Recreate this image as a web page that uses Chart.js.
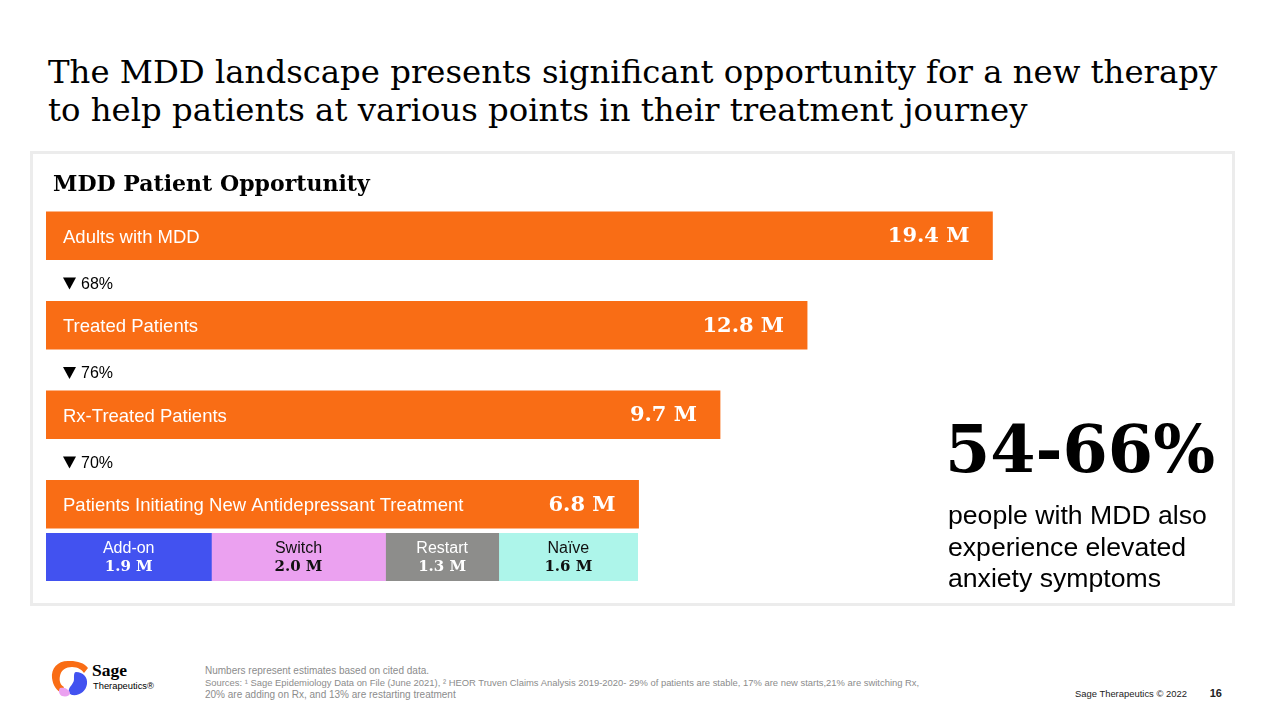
<!DOCTYPE html>
<html>
<head>
<meta charset="utf-8">
<script src="https://cdn.jsdelivr.net/npm/chart.js@4.4.1/dist/chart.umd.min.js"></script>
<style>
  html, body { margin:0; padding:0; background:#fff; }
  body { width:1280px; height:720px; position:relative; overflow:hidden; }
  #panel { position:absolute; left:30px; top:151px; width:1199px; height:449px; border:3px solid #ececec; }
  canvas { position:absolute; }
  .t { position:absolute; white-space:nowrap; line-height:1; }
</style>
</head>
<body>
<div id="panel"></div>
<canvas id="main" width="1188" height="358" style="left:46px; top:191px; width:1188px; height:358px;"></canvas>
<canvas id="split" width="592" height="48" style="left:46px; top:533px; width:592px; height:48px;"></canvas>
<svg style="position:absolute; left:50px; top:659px;" width="42" height="40" viewBox="0 0 42 40">
  <path d="M20 2 C8 1 1 9 2 19 C3 27 7 32 12 34 L14 28 C10 26 9 21 10 17 C11 11 16 8 22 8 C28 8 32 11 34 14 L38 9 C34 4 28 2 20 2 Z" fill="#F96D15"/>
  <path d="M26 13 C33 13 38 18 37 25 C36 32 30 37 22 36 C19 35 18 33 19 30 C21 26 24 24 24 20 C24 16 24 13 26 13 Z" fill="#4252F0"/>
  <path d="M10 29 C14 28 19 30 20 34 C20 37 16 38 12 37 C9 36 8 31 10 29 Z" fill="#EBA1F0"/>
</svg>
<script>
// ---------- data ----------
const categories = ['Adults with MDD', 'Treated Patients', 'Rx-Treated Patients', 'Patients Initiating New Antidepressant Treatment'];
const patientsM = [19.4, 12.8, 9.7, 6.8];
const dropRates = ['68%', '76%', '70%'];
const breakdownLabels = ['Add-on', 'Switch', 'Restart', 'Naïve'];
const breakdownM = [1.9, 2.0, 1.3, 1.6];

// ---------- styles ----------
const ORANGE = '#F96D15';
const breakdownColors = ['#4252F0', '#EBA1F0', '#8D8D8B', '#ADF5EA'];
const breakdownText = ['#ffffff', '#111111', '#ffffff', '#111111'];
const SANS = '"Liberation Sans", Arial, Helvetica, sans-serif';
const SERIF = '"DejaVu Serif", Georgia, serif';
const X_MIN = -14.3, X_MAX = 28;

// ---------- text helper ----------
const mctx = document.createElement('canvas').getContext('2d');
function addText(str, o) {
  const el = document.createElement('div');
  el.className = 't';
  el.textContent = str;
  let size = o.size;
  el.style.fontFamily = o.font;
  el.style.fontWeight = o.weight || 'normal';
  el.style.color = o.color || '#000';
  el.style.fontSize = size + 'px';
  document.body.appendChild(el);
  if (o.width) {
    const w = el.getBoundingClientRect().width;
    size = size * o.width / w;
    el.style.fontSize = size + 'px';
  }
  mctx.font = (o.weight || 'normal') + ' ' + size + 'px ' + o.font;
  const m = mctx.measureText('Mg');
  const asc = m.fontBoundingBoxAscent, desc = m.fontBoundingBoxDescent;
  const top = o.base - ((size - (asc + desc)) / 2 + asc);
  el.style.top = top + 'px';
  const w2 = el.getBoundingClientRect().width;
  el.style.left = (o.align === 'right' ? o.x - w2 : o.x) + 'px';
  return size;
}

// ---------- chart plugins ----------
const mainLabels = {
  id: 'mainLabels',
  afterDatasetsDraw(chart) {
    const ctx = chart.ctx;
    const bars = chart.getDatasetMeta(0).data;
    ctx.save();
    ctx.textBaseline = 'middle';
    bars.forEach((b, i) => {
      ctx.fillStyle = '#ffffff';
      ctx.textAlign = 'left';
      ctx.font = '18.5px ' + SANS;
      ctx.fillText(categories[i], b.base + 17, b.y + 2);
      ctx.textAlign = 'right';
      ctx.font = 'bold 21px ' + SERIF;
      ctx.fillText(patientsM[i].toFixed(1) + ' M', b.x - 23, b.y + 1);
    });
    // drop-rate markers between bars
    for (let i = 0; i < dropRates.length; i++) {
      const y = (bars[i].y + bars[i + 1].y) / 2 + 3;
      const x0 = bars[i].base + 17;
      ctx.fillStyle = '#000';
      ctx.beginPath();
      ctx.moveTo(x0, y - 6);
      ctx.lineTo(x0 + 13, y - 6);
      ctx.lineTo(x0 + 6.5, y + 6);
      ctx.closePath();
      ctx.fill();
      ctx.textAlign = 'left';
      ctx.font = '16px ' + SANS;
      ctx.fillText(dropRates[i], x0 + 18, y + 1);
    }
    ctx.restore();
  }
};

const splitLabels = {
  id: 'splitLabels',
  afterDatasetsDraw(chart) {
    const ctx = chart.ctx;
    ctx.save();
    ctx.textAlign = 'center';
    ctx.textBaseline = 'middle';
    chart.data.datasets.forEach((ds, i) => {
      const b = chart.getDatasetMeta(i).data[0];
      const cx = (b.x + b.base) / 2;
      ctx.fillStyle = breakdownText[i];
      ctx.font = '16px ' + SANS;
      ctx.fillText(breakdownLabels[i], cx, b.y - 8);
      ctx.font = 'bold 15px ' + SERIF;
      ctx.fillText(breakdownM[i].toFixed(1) + ' M', cx, b.y + 10);
    });
    ctx.restore();
  }
};

const common = {
  indexAxis: 'y',
  responsive: false,
  animation: false,
  devicePixelRatio: 1,
  events: [],
  layout: { padding: 0 },
  plugins: { legend: { display: false }, tooltip: { enabled: false } }
};

new Chart(document.getElementById('main'), {
  type: 'bar',
  data: {
    labels: categories,
    datasets: [{ data: patientsM, backgroundColor: ORANGE, borderWidth: 0, barThickness: 48, base: X_MIN }]
  },
  options: Object.assign({}, common, {
    scales: {
      x: { display: false, min: X_MIN, max: X_MAX },
      y: { display: false }
    }
  }),
  plugins: [mainLabels]
});

const total = breakdownM.reduce((a, b) => a + b, 0);
new Chart(document.getElementById('split'), {
  type: 'bar',
  data: {
    labels: ['Patients Initiating New Antidepressant Treatment'],
    datasets: breakdownLabels.map((l, i) => ({
      label: l, data: [breakdownM[i]], backgroundColor: breakdownColors[i],
      borderWidth: 0, barPercentage: 1, categoryPercentage: 1
    }))
  },
  options: Object.assign({}, common, {
    scales: {
      x: { display: false, stacked: true, min: 0, max: total },
      y: { display: false, stacked: true }
    }
  }),
  plugins: [splitLabels]
});

// ---------- page text ----------
const ts = addText('The MDD landscape presents significant opportunity for a new therapy', { x: 48, base: 83, font: SERIF, size: 34, width: 1170 });
addText('to help patients at various points in their treatment journey', { x: 48, base: 121, font: SERIF, size: ts });
addText('MDD Patient Opportunity', { x: 53, base: 191, font: SERIF, weight: 'bold', size: 22, width: 317 });
addText('54-66%', { x: 945, base: 473, font: SERIF, weight: 'bold', size: 64, width: 270 });
const ps = addText('people with MDD also', { x: 948, base: 524, font: SANS, size: 26.5, width: 259 });
addText('experience elevated', { x: 948, base: 556, font: SANS, size: ps });
addText('anxiety symptoms', { x: 948, base: 587, font: SANS, size: ps });

addText('Sage', { x: 92, base: 677, font: '"Liberation Serif", serif', weight: 'bold', size: 20, width: 35 });
addText('Therapeutics®', { x: 93, base: 690, font: SANS, size: 12, width: 61 });

const FOOT = '#8c8c8c';
addText('Numbers represent estimates based on cited data.', { x: 205, base: 674, font: SANS, size: 10, color: FOOT });
addText('Sources: ¹ Sage Epidemiology Data on File (June 2021), ² HEOR Truven Claims Analysis 2019-2020- 29% of patients are stable, 17% are new starts,21% are switching Rx,', { x: 205, base: 686, font: SANS, size: 10, color: FOOT, width: 715 });
addText('20% are adding on Rx, and 13% are restarting treatment', { x: 205, base: 698, font: SANS, size: 10, color: FOOT });
addText('Sage Therapeutics © 2022', { x: 1075, base: 697, font: SANS, size: 11, color: '#222', width: 112 });
addText('16', { x: 1222, base: 697, font: SANS, weight: 'bold', size: 11, color: '#222', align: 'right' });
</script>
</body>
</html>
